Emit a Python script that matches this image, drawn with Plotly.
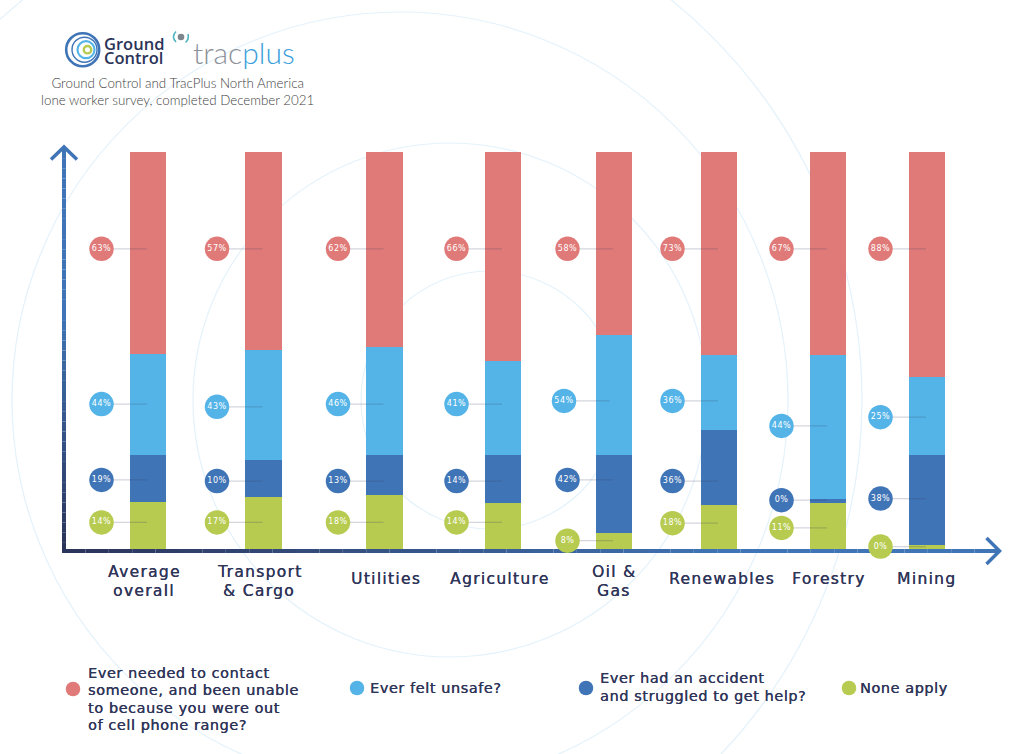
import plotly.graph_objects as go

# ---------- data ----------
categories = ["Average<br>overall", "Transport<br>& Cargo", "Utilities", "Agriculture",
              "Oil &<br>Gas", "Renewables", "Forestry", "Mining"]
series_names = ["None apply", "Ever had an accident<br>and struggled to get help?", "Ever felt unsafe?",
                "Ever needed to contact<br>someone, and been unable<br>to because you were out<br>of cell phone range?"]
# drawn share of each bar
none_share = [11.8, 13.1, 13.6, 11.6, 4.0, 11.2, 11.6, 1.0]
accident_share = [11.8, 9.3, 10.1, 12.1, 19.6, 18.9, 1.0, 22.7]
unsafe_share = [25.4, 27.7, 27.2, 23.7, 30.2, 18.8, 36.3, 19.6]
contact_share = [51.0, 49.9, 49.1, 52.6, 46.2, 51.1, 51.1, 56.7]
# printed percentage labels
none_label = [14, 17, 18, 14, 8, 18, 11, 0]
accident_label = [19, 10, 13, 14, 42, 36, 0, 38]
unsafe_label = [44, 43, 46, 41, 54, 36, 44, 25]
contact_label = [63, 57, 62, 66, 58, 73, 67, 88]
# level of each label bubble on the value axis
none_level = [6.7, 6.7, 6.7, 6.7, 2.1, 6.5, 5.3, 0.6]
accident_level = [17.4, 17.1, 17.1, 17.1, 17.4, 17.1, 12.3, 12.7]
unsafe_level = [36.5, 35.8, 36.5, 36.5, 37.3, 37.3, 31.0, 33.2]
contact_level = [75.6, 75.6, 75.6, 75.6, 75.6, 75.6, 75.6, 75.6]

# ---------- layout constants ----------
W, H = 1024, 754
BASE_PX, TOP_PX = 549.0, 152.0
SCALE = (BASE_PX - TOP_PX) / 100.0
def Y(py):
    return (BASE_PX - py) / SCALE

bar_x = [148, 263.5, 384.5, 503, 614, 719, 828, 927]
label_x = [144, 259, 386, 500, 614, 722, 829, 926]
bubble_gap = 46.5
no_shift = [0] * 8
unsafe_shift = [0, 0, 0, 0, -3.5, 0, 0, 0]
RED, SKY, BLUE, GREEN = "#e07a78", "#54b4e8", "#3f74b6", "#b6cb50"
INK = "#2f3559"
DARK = "#2b3358"
FONT = "DejaVu Sans"

fig = go.Figure()

# bars
for vals, col, name in zip([none_share, accident_share, unsafe_share, contact_share],
                           [GREEN, BLUE, SKY, RED], series_names):
    fig.add_trace(go.Bar(x=bar_x, y=vals, width=36.5, marker=dict(color=col, line=dict(width=0)),
                         name=name.replace("<br>", " "), showlegend=False))

groups = list(zip([none_level, accident_level, unsafe_level, contact_level],
                  [none_label, accident_label, unsafe_label, contact_label],
                  [GREEN, BLUE, SKY, RED],
                  [no_shift, no_shift, unsafe_shift, no_shift]))
# connector lines
for levels, labels, col, shift in groups:
    lx, ly = [], []
    for x, lv, s in zip(bar_x, levels, shift):
        lx += [x + s - bubble_gap, x + s - 1, None]
        ly += [lv, lv, None]
    fig.add_trace(go.Scatter(x=lx, y=ly, mode="lines", showlegend=False, hoverinfo="skip",
                             line=dict(color="rgba(60,70,100,0.22)", width=1.2)))
# bubbles
for levels, labels, col, shift in groups:
    fig.add_trace(go.Scatter(x=[x + s - bubble_gap for x, s in zip(bar_x, shift)], y=levels, mode="markers+text",
                             marker=dict(size=24.5, color=col, line=dict(width=0)),
                             text=[f'<span style="letter-spacing:0.5px">{v}%</span>' for v in labels],
                             textposition="middle center",
                             textfont=dict(family=FONT, size=8, color="white"),
                             showlegend=False, hoverinfo="skip"))

# legend dots
legend_dot_x = [849, 586, 357, 73]
legend_dot_y = [688, 688, 688, 689]
for dx, dy, col in zip(legend_dot_x, legend_dot_y, [GREEN, BLUE, SKY, RED]):
    fig.add_trace(go.Scatter(x=[dx], y=[Y(dy)], mode="markers", showlegend=False, hoverinfo="skip",
                             marker=dict(size=14.5, color=col, line=dict(width=0))))

shapes = []
# background rings
for cx, cy, r in [(490, 400, 129), (450, 400, 257), (400, 400, 388), (347, 400, 515)]:
    shapes.append(dict(type="circle", xref="x", yref="y", x0=cx - r, x1=cx + r, y0=Y(cy + r), y1=Y(cy - r),
                       line=dict(color="#e4f2fb", width=1.2), layer="below"))

def mix(t):
    a, b = (0x2b, 0x33, 0x58), (0x3f, 0x74, 0xb6)
    t = max(0.0, min(1.0, t))
    return "rgb(%d,%d,%d)" % tuple(round(p + (q - p) * t) for p, q in zip(a, b))

# gradient axis lines
N = 40
for i in range(N):
    y0, y1 = 553 - (553 - 148) * i / N, 553 - (553 - 148) * (i + 1) / N
    shapes.append(dict(type="line", xref="x", yref="y", x0=64, x1=64, y0=Y(y0), y1=Y(y1),
                       line=dict(color=mix((i + .5) / N * 1.7), width=4), layer="below"))
    x0, x1 = 62 + (998 - 62) * i / N, 62 + (998 - 62) * (i + 1) / N
    shapes.append(dict(type="line", xref="x", yref="y", x0=x0, x1=x1, y0=Y(551), y1=Y(551),
                       line=dict(color=mix((i + .5) / N * 1.4), width=4), layer="below"))
# arrowheads
shapes.append(dict(type="path", xref="x", yref="y", layer="below",
                   path=f"M 51 {Y(159.5)} L 64 {Y(147)} L 77 {Y(159.5)}",
                   line=dict(color=BLUE, width=3.5)))
shapes.append(dict(type="path", xref="x", yref="y", layer="below",
                   path=f"M 986.5 {Y(538)} L 999.5 {Y(551)} L 986.5 {Y(564)}",
                   line=dict(color=BLUE, width=3.5)))

# logo rings
for cx, r, col, w in [(82.7, 16.5, "#3f74b6", 2.6), (84.5, 12.5, "#3f74b6", 1.4),
                      (86, 8.5, "#54b4e8", 2.2), (87.5, 3.7, GREEN, 2.4)]:
    shapes.append(dict(type="circle", xref="x", yref="y", x0=cx - r, x1=cx + r, y0=Y(49.7 + r), y1=Y(49.7 - r),
                       line=dict(color=col, width=w), layer="below"))
# signal icon
shapes.append(dict(type="circle", xref="x", yref="y", x0=177.7, x1=184.3, y0=Y(40.3), y1=Y(33.7),
                   fillcolor="#7d858c", line=dict(width=0), layer="below"))
shapes.append(dict(type="path", xref="x", yref="y", layer="below",
                   path=f"M 176 {Y(31.5)} Q 171 {Y(36.5)} 176 {Y(42)}", line=dict(color="#4fb5c0", width=1.6)))
shapes.append(dict(type="path", xref="x", yref="y", layer="below",
                   path=f"M 185.5 {Y(42.5)} Q 189.5 {Y(39)} 188 {Y(34)}", line=dict(color="#4fb5c0", width=1.6)))

ann = []
def text(x, py, s, size, color=INK, family=FONT, align="center", xanchor="center", weight=None, spacing=0, shadow=None):
    f = dict(family=family, size=size, color=color)
    if weight:
        f["weight"] = weight
    if shadow:
        f["shadow"] = shadow
    if spacing:
        s = f'<span style="letter-spacing:{spacing}px">{s}</span>'
    ann.append(dict(x=x, y=Y(py), xref="x", yref="y", text=s, showarrow=False, font=f, align=align,
                    xanchor=xanchor, yanchor="middle", borderpad=0, borderwidth=0))

STROKE = "0.35px 0 0 " + INK
# category labels, one annotation per line
cat_y = {1: [579], 2: [572, 591]}
for x, c in zip(label_x, categories):
    lines = c.split("<br>")
    for py, s in zip(cat_y[len(lines)], lines):
        text(x, py, s, 15.5, spacing=1.3, shadow=STROKE)

# legend text
legend_text_x = [860, 600, 370, 88]
legend_text_y = [688, 678, 688, 672.5]
for x, py, s in zip(legend_text_x, legend_text_y, series_names):
    for i, line in enumerate(s.split("<br>")):
        text(x, py + i * 17.6, line, 14.4, align="left", xanchor="left", spacing=0.6, shadow=STROKE)

# header
text(177, 91, "Ground Control and TracPlus North America<br>lone worker survey, completed December 2021",
     13.35, color="#3f3f44", family="Lato", weight=300)
text(104, 43, "Ground", 16.5, color=DARK, family="Open Sans", align="left", xanchor="left", weight=600)
text(104, 57.5, "Control", 16.5, color=DARK, family="Open Sans", align="left", xanchor="left", weight=600)
text(193, 51.5, '<span style="color:#8b9199">trac</span><span style="color:#3b9fdc">plus</span>',
     30, family="Lato", align="left", xanchor="left", weight=300)

fig.update_layout(
    width=W, height=H, margin=dict(l=0, r=0, t=0, b=0, pad=0), autosize=False,
    barmode="stack", bargap=0, showlegend=False, plot_bgcolor="white", paper_bgcolor="white",
    xaxis=dict(range=[0, W], visible=False, fixedrange=True),
    yaxis=dict(range=[Y(H), Y(0)], visible=False, fixedrange=True),
    shapes=shapes, annotations=ann,
)
fig.write_html("out.html", config=dict(displayModeBar=False),
               post_script="document.body.style.margin='0';document.documentElement.style.overflow='hidden';")
